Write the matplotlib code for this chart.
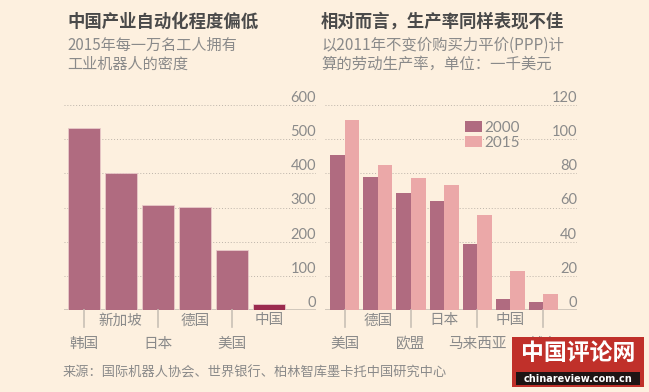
import matplotlib.pyplot as plt
from matplotlib.patches import Rectangle

plt.rcParams['font.family'] = ['Noto Sans CJK SC', 'DejaVu Sans']

# left panel: robots per 10,000 workers, 2015
robot_countries = ['韩国', '新加坡', '日本', '德国', '美国', '中国']
robot_density = [534, 400, 306, 302, 176, 18]
robot_ticks = [0, 100, 200, 300, 400, 500, 600]

# right panel: labour productivity, thousand USD (2011 PPP)
prod_countries = ['美国', '德国', '欧盟', '日本', '马来西亚', '中国', '越南']
prod_2000 = [91, 77.6, 68.7, 63.8, 38.6, 6.4, 4.7]
prod_2015 = [111, 84.7, 77, 73.2, 55.4, 23, 9.4]
prod_ticks = [0, 20, 40, 60, 80, 100, 120]

bg = '#fdf0df'
dark = '#b06b80'
light = '#eba8a8'
china = '#9b2b4e'
grey = '#8a8a8a'
title_c = '#4a4a4a'

W, H = 649, 392
fig = plt.figure(figsize=(W / 100, H / 100), dpi=100)
fig.patch.set_facecolor(bg)


def px_axes(x0, x1, ytop, ybot):
    return fig.add_axes([x0 / W, 1 - ybot / H, (x1 - x0) / W, (ybot - ytop) / H])


def style(ax, ticks):
    ax.set_facecolor('none')
    for s in ax.spines.values():
        s.set_visible(False)
    ax.set_ylim(0, ticks[-1])
    ax.set_yticks([])
    ax.set_xticks([])
    for t in ticks:
        if t == 0:
            ax.axhline(0, color='#c9c0b6', lw=1.2, zorder=1)
        else:
            ax.axhline(t, color='#bdb4aa', lw=0.7, ls=(0, (1, 2)), zorder=0)
        ax.text(1.0, t, str(t), transform=ax.get_yaxis_transform(), ha='right',
                va='bottom', fontsize=10.5, color=grey, family='Lato')


def two_row_labels(ax, labels, tick_len):
    for i, lab in enumerate(labels):
        if i % 2 == 0:
            ax.plot([i, i], [0, -tick_len], color='#c9c0b6', lw=1.2, clip_on=False)
            ax.text(i, -tick_len * 1.95, lab, ha='center', va='center', fontsize=10.5, color=grey)
        else:
            ax.text(i, -tick_len * 0.6, lab, ha='center', va='center', fontsize=10.5, color=grey)


# left chart
ax1 = px_axes(64, 316, 105, 310)
style(ax1, robot_ticks)
ax1.set_xlim(-0.53, 6.26)
xs = range(len(robot_countries))
colors = [dark] * (len(robot_countries) - 1) + [china]
ax1.bar(xs, robot_density, width=0.87, color=colors, edgecolor='#e8c9c9', lw=0.6, zorder=2)
two_row_labels(ax1, robot_countries, 51)

# right chart
ax2 = px_axes(325, 577, 105, 310)
style(ax2, prod_ticks)
ax2.set_xlim(-0.6, 7.02)
xs2 = list(range(len(prod_countries)))
ax2.bar([x - 0.22 for x in xs2], prod_2000, width=0.44, color=dark, zorder=2, label='2000')
ax2.bar([x + 0.22 for x in xs2], prod_2015, width=0.44, color=light, zorder=2, label='2015')
two_row_labels(ax2, prod_countries, 10.2)
ax2.legend(loc='upper left', bbox_to_anchor=(0.5, 0.99), frameon=False,
           handlelength=1.1, handleheight=0.7, handletextpad=0.15, labelspacing=0.05,
           labelcolor=grey, prop={'family': 'Lato', 'size': 11})

# titles
fig.text(67 / W, 1 - 22 / H, '中国产业自动化程度偏低', fontsize=12.5, weight='bold',
         color=title_c, va='center')
fig.text(67 / W, 1 - 45 / H, '2015年每一万名工人拥有', fontsize=10.9, color=grey, va='center')
fig.text(67 / W, 1 - 64 / H, '工业机器人的密度', fontsize=10.9, color=grey, va='center')
fig.text(321 / W, 1 - 22 / H, '相对而言，生产率同样表现不佳', fontsize=12.5, weight='bold',
         color=title_c, va='center')
fig.text(321 / W, 1 - 45 / H, '以2011年不变价购买力平价(PPP)计', fontsize=11.1, color=grey, va='center')
fig.text(321 / W, 1 - 64 / H, '算的劳动生产率，单位：一千美元', fontsize=11.1, color=grey, va='center')
fig.text(63 / W, 1 - 373 / H, '来源：国际机器人协会、世界银行、柏林智库墨卡托中国研究中心',
         fontsize=9.5, color=grey, va='center')

# watermark
fig.patches.append(Rectangle((512 / W, 1 - 387 / H), 132 / W, 50 / H, transform=fig.transFigure,
                             facecolor='#c0302a', edgecolor='none', zorder=5))
fig.patches.append(Rectangle((516 / W, 1 - 385 / H), 124 / W, 13 / H, transform=fig.transFigure,
                             facecolor='#1e1414', edgecolor='none', zorder=6))
fig.text(578 / W, 1 - 354 / H, '中国评论网', fontsize=16.5, weight='bold', color='white',
         ha='center', va='center', zorder=7)
fig.text(578 / W, 1 - 378.5 / H, 'chinareview.com.cn', fontsize=7, weight='bold', color='white',
         ha='center', va='center', zorder=7, family='DejaVu Sans')

fig.savefig('out.png', dpi=100, facecolor=bg)
